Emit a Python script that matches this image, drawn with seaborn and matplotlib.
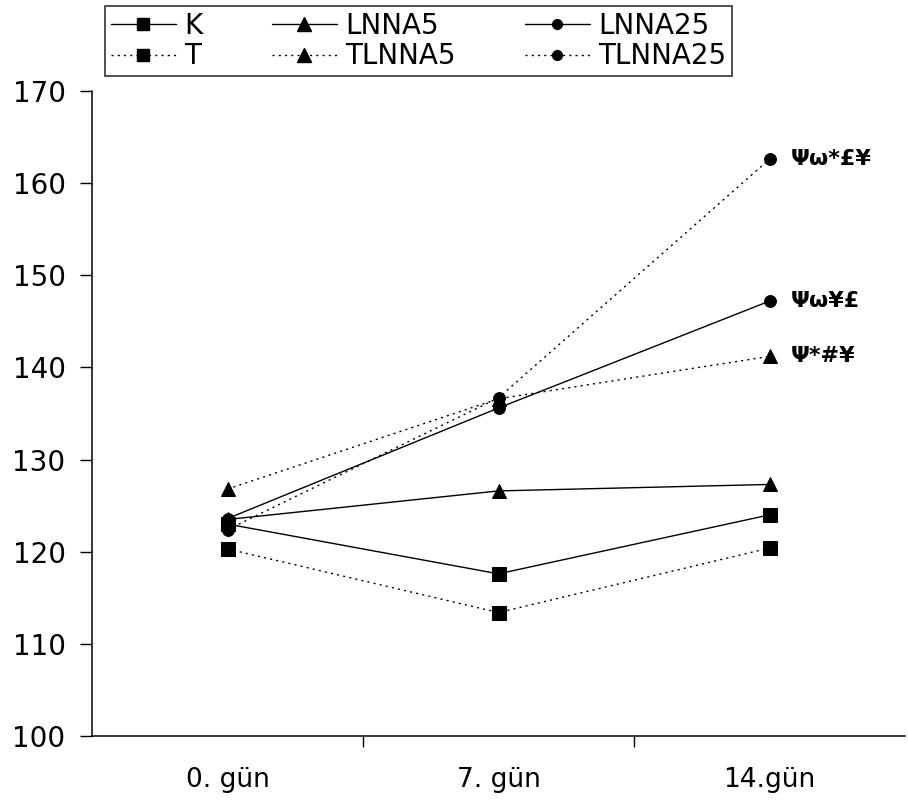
import matplotlib
matplotlib.use("Agg")
import matplotlib.pyplot as plt
import seaborn as sns
import pandas as pd
from matplotlib.lines import Line2D

categories = ["0. gün", "7. gün", "14.gün"]
series_names = ["K", "T", "LNNA5", "TLNNA5", "LNNA25", "TLNNA25"]
K = [123.0, 117.6, 124.0]
T = [120.3, 113.4, 120.4]
LNNA5 = [123.5, 126.6, 127.3]
TLNNA5 = [126.8, 136.6, 141.2]
LNNA25 = [123.6, 135.6, 147.2]
TLNNA25 = [122.4, 136.7, 162.6]
annot_series = ["TLNNA25", "LNNA25", "TLNNA5"]
annot_texts = ["Ψω*£¥", "Ψω¥£", "Ψ*#¥"]

values = {"K": K, "T": T, "LNNA5": LNNA5, "TLNNA5": TLNNA5,
          "LNNA25": LNNA25, "TLNNA25": TLNNA25}
markers = {"K": "s", "T": "s", "LNNA5": "^", "TLNNA5": "^", "LNNA25": "o", "TLNNA25": "o"}
solid = {"K": True, "T": False, "LNNA5": True, "TLNNA5": False, "LNNA25": True, "TLNNA25": False}

rows = []
for s in series_names:
    for i, c in enumerate(categories):
        rows.append({"series": s, "pos": i, "value": values[s][i]})
df = pd.DataFrame(rows)

sns.set_style("white")
plt.rcParams['font.family'] = ['DejaVu Sans']
plt.rcParams['text.color'] = 'black'
plt.rcParams['xtick.color'] = 'black'
plt.rcParams['ytick.color'] = 'black'
plt.rcParams['axes.labelcolor'] = 'black'

fig = plt.figure(figsize=(9.08, 8.01), dpi=100)
ax = fig.add_axes([92/908, 65/801, 813/908, 645/801])

DOT = (0, (1.5, 3))
msize = {"s": 10, "^": 10.5, "o": 8.5}
for s in series_names:
    d = df[df.series == s]
    ls = "-" if solid[s] else DOT
    sns.lineplot(data=d, x="pos", y="value", ax=ax, color="black",
                 linewidth=1.0, linestyle=ls, marker=markers[s],
                 markersize=msize[markers[s]], markeredgecolor="black",
                 markerfacecolor="black", legend=False)

for s, t in zip(annot_series, annot_texts):
    ax.text(2 + 0.08, values[s][2], t, fontsize=16, fontweight="bold",
            va="center", ha="left", color="black")

ax.set_xlim(-0.5, 2.5)
ax.set_ylim(100, 170)
ax.set_yticks(range(100, 171, 10))
ax.set_xticks(range(len(categories)))
ax.set_xticklabels(categories)
ax.set_xticks([0.5, 1.5], minor=True)
ax.tick_params(axis="x", which="major", length=0, pad=22, labelsize=19, labelcolor="black")
ax.tick_params(axis="x", which="minor", length=8, width=1, direction="out", bottom=True, color="black")
ax.tick_params(axis="y", which="major", length=9, width=1, direction="out", left=True,
               labelsize=20, pad=10, color="black", labelcolor="black")
ax.set_xlabel("")
ax.set_ylabel("")
for sp in ["top", "right"]:
    ax.spines[sp].set_visible(False)
for sp in ["left", "bottom"]:
    ax.spines[sp].set_color("black")
    ax.spines[sp].set_linewidth(1.1)

lmsize = {"s": 9, "^": 9.5, "o": 7}
handles = []
for s in series_names:
    ls = "-" if solid[s] else DOT
    handles.append(Line2D([0], [0], color="black", linewidth=1.0, linestyle=ls,
                          marker=markers[s], markersize=lmsize[markers[s]],
                          markerfacecolor="black", markeredgecolor="black"))
leg = fig.legend(handles, series_names, ncol=3, loc="upper left",
                 bbox_to_anchor=(105/908, 1 - 6/801), borderaxespad=0,
                 fontsize=20, frameon=True, fancybox=False, edgecolor="black",
                 handlelength=2.34, columnspacing=2.5, handletextpad=0.3,
                 borderpad=0.2, labelspacing=0.1, labelcolor="black")
leg.get_frame().set_linewidth(1.2)

fig.savefig("out.png", dpi=100)
